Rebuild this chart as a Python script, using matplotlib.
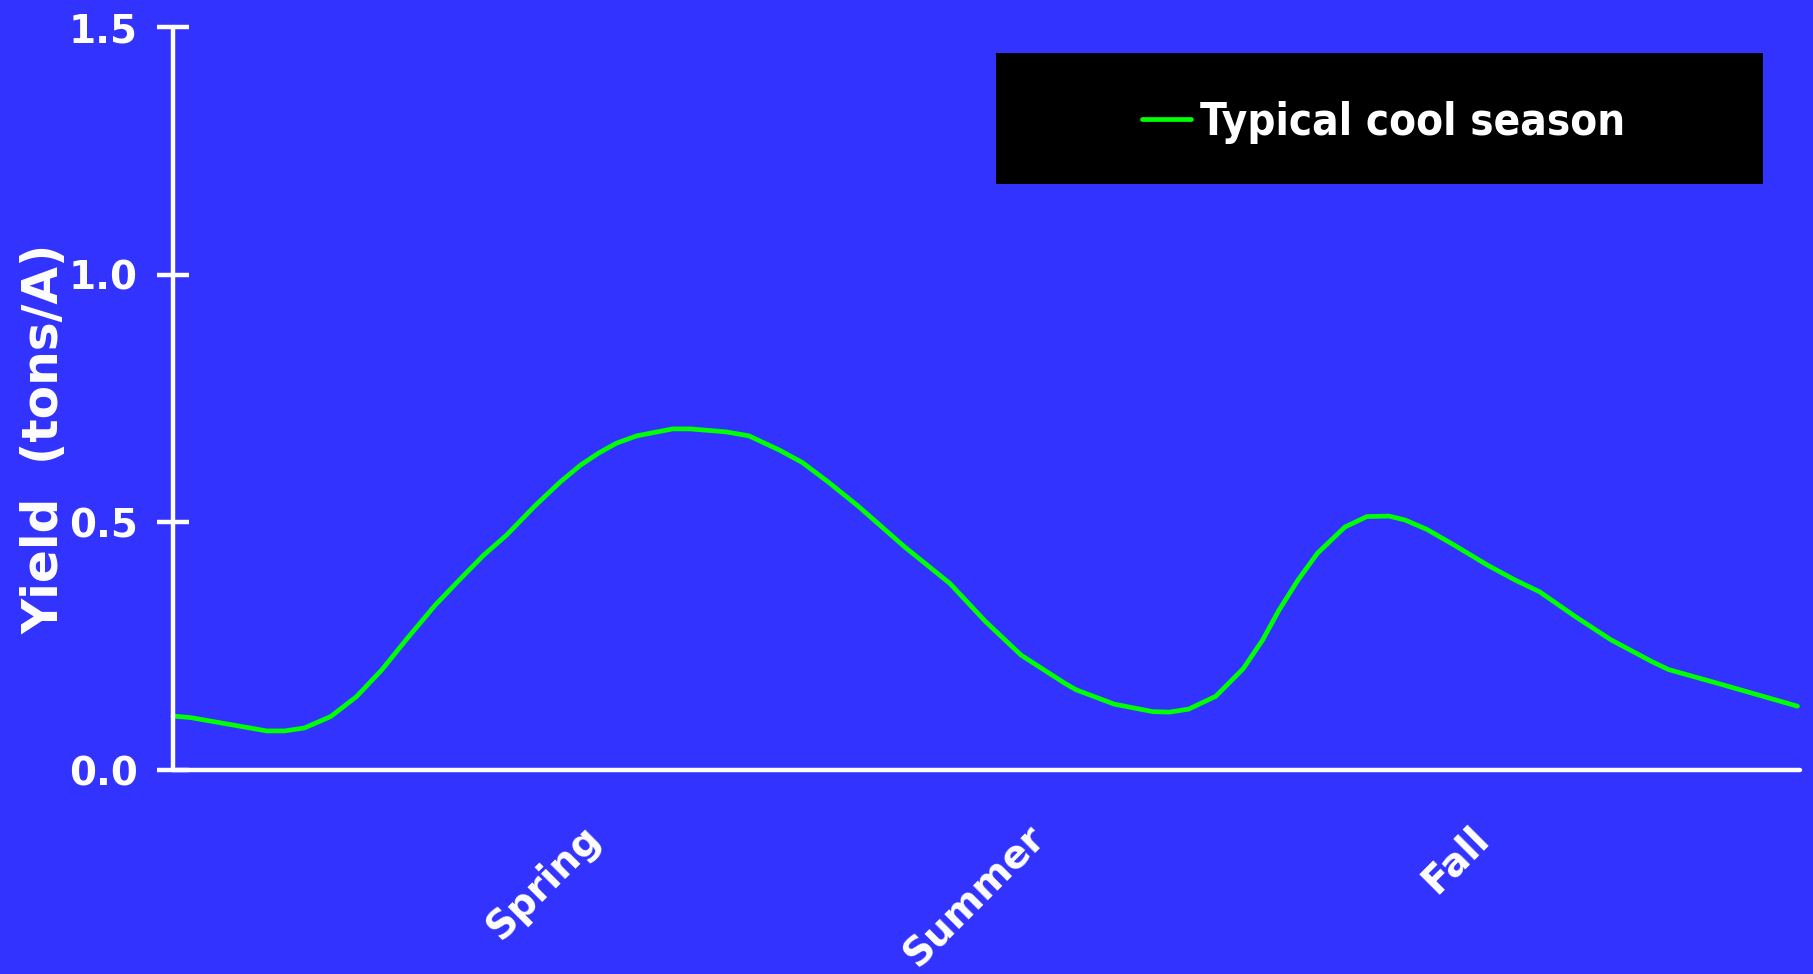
import matplotlib
matplotlib.use("Agg")
import matplotlib.pyplot as plt
from matplotlib.patches import Rectangle

# Seasonal forage yield curve (x in weeks of the growing year, y in tons/A)
weeks = [0.0, 0.56, 3.0, 3.57, 4.2, 5.04, 5.86, 6.67, 7.49, 8.38, 9.2, 9.93,
         10.67, 11.56, 12.38, 13.03, 13.6, 14.17, 14.82, 15.97, 16.54, 17.68,
         18.41, 19.39, 20.12, 20.94, 21.92, 23.38, 24.83, 25.97, 27.11, 28.51,
         28.87, 30.09, 31.32, 31.84, 32.46, 33.33, 34.21, 34.83, 35.35, 35.96,
         36.58, 37.46, 38.16, 38.86, 39.38, 40.08, 40.96, 42.01, 42.89, 43.68,
         44.82, 45.96, 47.27, 47.8, 49.38, 51.92]
yield_tons = [0.109, 0.106, 0.079, 0.079, 0.085, 0.108, 0.148, 0.202, 0.266,
              0.333, 0.387, 0.434, 0.475, 0.533, 0.582, 0.616, 0.640, 0.660,
              0.675, 0.689, 0.689, 0.683, 0.675, 0.646, 0.621, 0.582, 0.532,
              0.451, 0.377, 0.300, 0.232, 0.175, 0.162, 0.133, 0.118, 0.117,
              0.123, 0.149, 0.205, 0.263, 0.323, 0.384, 0.438, 0.491, 0.512,
              0.513, 0.505, 0.486, 0.454, 0.414, 0.384, 0.360, 0.310, 0.263,
              0.219, 0.203, 0.175, 0.129]

season_ticks = [13.9, 28.1, 42.3]
season_labels = ["Spring", "Summer", "Fall"]
y_ticks = [0.0, 0.5, 1.0, 1.5]
y_tick_labels = ["0.0", "0.5", "1.0", "1.5"]
series_name = "Typical cool season"

BG = "#3333FF"
LINE = "#00FF00"
WHITE = "white"

fig = plt.figure(figsize=(18.13, 9.74), dpi=100, facecolor=BG)
ax = fig.add_axes([0.0954, 0.2094, 0.8974, 0.7625])
ax.set_facecolor(BG)

ax.plot(weeks, yield_tons, color=LINE, lw=3.4, solid_capstyle="round",
        solid_joinstyle="round", label=series_name, clip_on=False)

ax.set_xlim(0, 52)
ax.set_ylim(0, 1.5)

for side in ("top", "right"):
    ax.spines[side].set_visible(False)
for side in ("left", "bottom"):
    ax.spines[side].set_color(WHITE)
    ax.spines[side].set_linewidth(3.2)
    ax.spines[side].set_capstyle("round")

ax.set_yticks(y_ticks)
ax.set_yticklabels(y_tick_labels, fontsize=28, fontweight="bold",
                   color=WHITE, family="DejaVu Sans")
ax.tick_params(axis="y", direction="inout", length=23, width=3.2,
               color=WHITE, pad=14)

ax.set_xticks(season_ticks)
ax.set_xticklabels(season_labels, fontsize=28, fontweight="bold",
                   color=WHITE, rotation=45, ha="right", family="DejaVu Sans")
ax.tick_params(axis="x", length=0, pad=35)

ax.set_ylabel("Yield  (tons/A)", fontsize=35, fontweight="bold",
              color=WHITE, family="DejaVu Sans")
ax.yaxis.set_label_coords(-0.0645, 0.4457)

# Legend panel: black box with the key centred inside
ax.add_patch(Rectangle((0.5494, 0.8111), 0.4231, 0.1345,
                       transform=fig.transFigure, facecolor="black",
                       edgecolor="none", zorder=4, clip_on=False))
leg = ax.legend(loc="center left", bbox_to_anchor=(1142 / 1813, 1 - 122 / 974),
                bbox_transform=fig.transFigure, frameon=False,
                borderpad=0, borderaxespad=0, handlelength=1.12,
                handletextpad=0.21,
                prop=dict(family="DejaVu Sans", weight="bold",
                          stretch="condensed", size=31.5))
leg.set_zorder(6)
for t in leg.get_texts():
    t.set_color(WHITE)

fig.savefig("out.png", dpi=100, facecolor=BG)
